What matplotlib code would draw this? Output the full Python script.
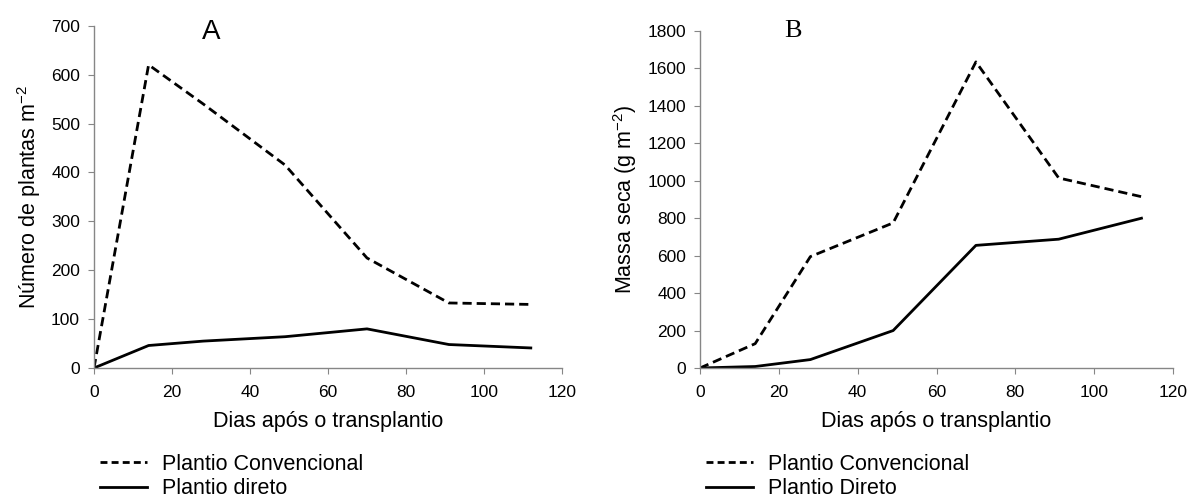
import matplotlib.pyplot as plt
from matplotlib.lines import Line2D

plt.rcParams['font.family'] = ['Liberation Sans', 'DejaVu Sans']

# dias após o transplantio
dias = [0, 14, 28, 49, 70, 91, 112]

# A: número de plantas m-2
plantas_conv = [0, 620, 540, 415, 225, 133, 130]
plantas_direto = [0, 46, 55, 64, 80, 48, 41]

# B: massa seca (g m-2)
massa_conv = [0, 130, 595, 775, 1635, 1015, 915]
massa_direto = [0, 8, 45, 200, 655, 688, 800]

W, H = 1190, 497
fig = plt.figure(figsize=(W / 100, H / 100), dpi=100)
axA = fig.add_axes([94 / W, 1 - 368 / H, (562 - 94) / W, (368 - 25.7) / H])
axB = fig.add_axes([700 / W, 1 - 368 / H, (1173 - 700) / W, (368 - 31) / H])

def style(ax, ymax, ystep):
    for s in ['top', 'right']:
        ax.spines[s].set_visible(False)
    for s in ['left', 'bottom']:
        ax.spines[s].set_color('#868686')
        ax.spines[s].set_linewidth(1.0)
    ax.set_xlim(0, 120)
    ax.set_ylim(0, ymax)
    ax.set_xticks(range(0, 121, 20))
    ax.set_yticks(range(0, ymax + 1, ystep))
    ax.tick_params(direction='out', length=4, color='#868686', labelsize=12.5)
    ax.tick_params(axis='x', pad=8)
    ax.tick_params(axis='y', pad=6)
    ax.set_xlabel('Dias após o transplantio', fontsize=15.5, labelpad=8)

dash = (0, (3.3, 1.8))

axA.plot(dias, plantas_conv, color='black', lw=2, linestyle=dash)
axA.plot(dias, plantas_direto, color='black', lw=2)
style(axA, 700, 100)
axA.set_ylabel('Número de plantas m$^{\\mathregular{-2}}$', fontsize=15.5, labelpad=6)
axA.text(30, 687, 'A', fontsize=20, ha='center', va='center')

axB.plot(dias, massa_conv, color='black', lw=2, linestyle=dash)
axB.plot(dias, massa_direto, color='black', lw=2)
style(axB, 1800, 200)
axB.set_ylabel('Massa seca (g m$^{\\mathregular{-2}}$)', fontsize=15.5, labelpad=6)
axB.text(23.5, 1800, 'B', fontsize=19, ha='center', va='center', family='Liberation Serif')

handles = [Line2D([], [], color='black', lw=2, linestyle=(0, (2.5, 1.5))),
           Line2D([], [], color='black', lw=2)]
leg_kw = dict(loc='upper left', frameon=False, fontsize=15.5, handlelength=2.2,
              handletextpad=0.7, labelspacing=0.15, borderpad=0, borderaxespad=0)
fig.legend(handles, ['Plantio Convencional', 'Plantio direto'],
           bbox_to_anchor=(100 / W, 1 - 454 / H), **leg_kw)
fig.legend(handles, ['Plantio Convencional', 'Plantio Direto'],
           bbox_to_anchor=(706 / W, 1 - 454 / H), **leg_kw)

fig.savefig('out.png', dpi=100)
